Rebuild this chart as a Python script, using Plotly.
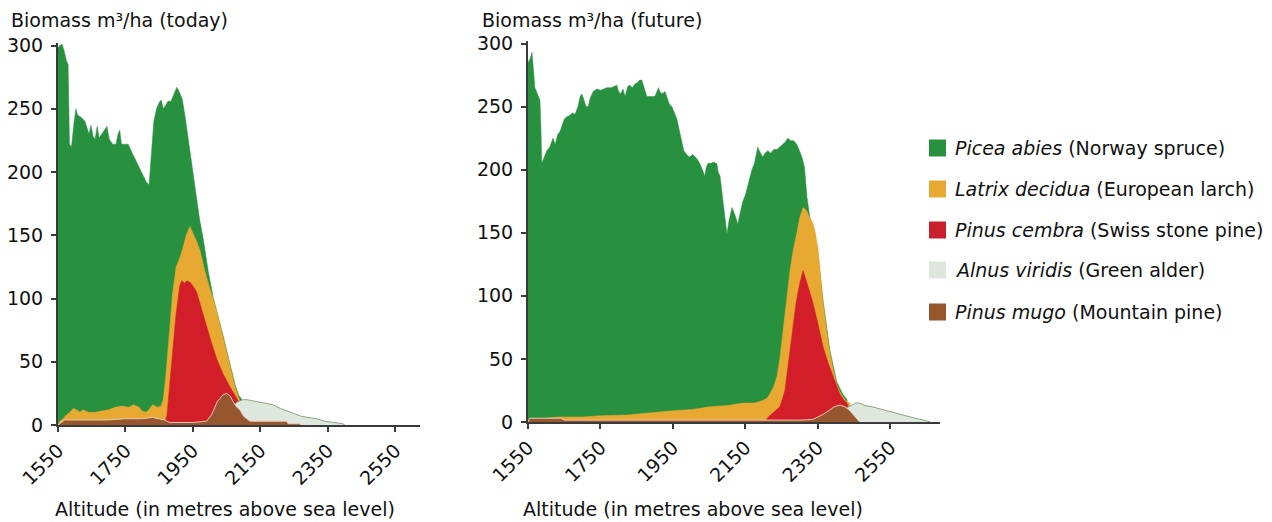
import plotly.graph_objects as go

# ---------------- DATA ----------------
# Today (left panel)
today_spruce_alt = [1550, 1555, 1562, 1568, 1575, 1580, 1584, 1590, 1597, 1603, 1608, 1620, 1630, 1636, 1642, 1648,
                    1654, 1660, 1666, 1672, 1680, 1688, 1695, 1702, 1712, 1722, 1728, 1733, 1738, 1750, 1758, 1770,
                    1785, 1800, 1812, 1820, 1826, 1834, 1842, 1850, 1856, 1862, 1870, 1876, 1885, 1893, 1902, 1910,
                    1918, 1926, 1935, 1941, 1950, 1961, 1970, 1980, 1995, 2010, 2025, 2040, 2060, 2075, 2085, 2095,
                    2105]
today_spruce_val = [298, 300, 301, 296, 288, 285, 222, 220, 238, 250, 245, 243, 240, 235, 230, 237,
                    228, 226, 236, 227, 230, 233, 236, 226, 222, 222, 230, 233, 222, 222, 222, 215,
                    207, 198, 192, 190, 215, 240, 250, 255, 257, 250, 253, 256, 256, 262, 267, 263,
                    258, 245, 228, 218, 200, 177, 162, 148, 122, 101, 86, 70, 48, 32, 24, 20,
                    0]

today_larch_alt = [1550, 1555, 1565, 1575, 1585, 1595, 1605, 1615, 1625, 1640, 1660, 1680, 1700, 1720, 1740, 1760,
                   1775, 1790, 1800, 1810, 1820, 1830, 1845, 1855, 1862, 1870, 1880, 1890, 1900, 1911, 1920, 1930,
                   1941, 1950, 1961, 1971, 1985, 2000, 2010, 2025, 2040, 2060, 2075, 2085, 2095, 2100]
today_larch_val = [0, 3, 5, 8, 10, 13, 12, 10, 12, 10, 10, 11, 12, 14, 15, 14,
                   16, 14, 11, 10, 12, 16, 14, 15, 20, 40, 75, 105, 125, 132, 140, 150,
                   157, 152, 145, 138, 122, 108, 100, 85, 68, 46, 30, 22, 15, 0]

today_cembra_alt = [1860, 1868, 1873, 1880, 1886, 1891, 1900, 1911, 1917, 1925, 1932, 1940, 1950, 1961, 1975, 1991,
                    2005, 2021, 2040, 2060, 2075, 2089, 2098, 2105]
today_cembra_val = [0, 3, 8, 30, 45, 60, 88, 110, 114, 112, 114, 113, 110, 105, 92, 78,
                    65, 52, 40, 30, 23, 17, 10, 0]

today_alder_alt = [2040, 2060, 2080, 2098, 2110, 2128, 2150, 2170, 2187, 2210, 2230, 2246, 2270, 2290, 2316, 2340,
                   2370, 2394, 2400]
today_alder_val = [0, 12, 18, 20, 20, 19, 18, 17, 16, 13, 11, 10, 7, 6, 5, 3,
                   2, 1, 0]

today_mugo_alt = [1550, 1560, 1570, 1600, 1650, 1700, 1750, 1800, 1830, 1850, 1865, 1880, 1950, 1990, 2005, 2015,
                  2021, 2030, 2040, 2050, 2060, 2070, 2080, 2089, 2100, 2119, 2150, 2200, 2228, 2232, 2267, 2270]
today_mugo_val = [0, 2, 4, 4, 4, 4, 5, 5, 6, 5, 4, 2, 2, 3, 8, 14,
                  18, 21, 24, 25, 23, 18, 14, 12, 7, 3, 3, 3, 3, 1, 1, 0]

# Future (right panel)
future_spruce_alt = [1550, 1556, 1561, 1565, 1569, 1576, 1583, 1586, 1588, 1595, 1602, 1610, 1619, 1625, 1632, 1638,
                     1645, 1650, 1657, 1665, 1672, 1680, 1688, 1694, 1699, 1705, 1710, 1716, 1722, 1730, 1740, 1750,
                     1760, 1768, 1780, 1790, 1795, 1800, 1806, 1812, 1818, 1825, 1831, 1838, 1845, 1852, 1858, 1864,
                     1870, 1878, 1890, 1900, 1906, 1910, 1914, 1920, 1928, 1934, 1940, 1947, 1955, 1961, 1970, 1980,
                     1988, 1995, 2005, 2015, 2024, 2030, 2038, 2042, 2047, 2055, 2063, 2068, 2071, 2075, 2080, 2084,
                     2088, 2094, 2099, 2105, 2113, 2120, 2125, 2129, 2135, 2143, 2150, 2154, 2160, 2168, 2175, 2180,
                     2184, 2190, 2198, 2204, 2212, 2220, 2228, 2237, 2245, 2253, 2260, 2267, 2275, 2283, 2292, 2299,
                     2306, 2313, 2320, 2328, 2340, 2350, 2364, 2383, 2402, 2419, 2430, 2440]
future_spruce_val = [285, 288, 293, 280, 265, 260, 255, 230, 205, 210, 215, 218, 225, 220, 228, 230,
                     237, 240, 242, 243, 245, 244, 250, 258, 260, 254, 250, 250, 257, 262, 264, 263,
                     264, 265, 265, 266, 267, 262, 260, 264, 258, 266, 267, 265, 268, 269, 271, 271,
                     265, 258, 258, 258, 262, 265, 262, 260, 262, 257, 252, 250, 245, 240, 228, 215,
                     212, 210, 212, 209, 205, 200, 195, 202, 205, 205, 206, 205, 205, 198, 195, 185,
                     175, 160, 149, 160, 170, 165, 160, 157, 165, 175, 180, 185, 192, 200, 205, 212,
                     218, 214, 210, 213, 215, 213, 216, 216, 218, 220, 222, 225, 223, 223, 220, 215,
                     210, 202, 178, 162, 145, 133, 97, 57, 32, 22, 18, 0]

future_larch_alt = [1550, 1560, 1600, 1638, 1700, 1750, 1823, 1870, 1900, 1950, 2005, 2050, 2100, 2143, 2175, 2198,
                    2210, 2217, 2228, 2237, 2245, 2253, 2263, 2273, 2283, 2292, 2300, 2309, 2318, 2327, 2336, 2343,
                    2350, 2357, 2364, 2373, 2383, 2392, 2402, 2411, 2419, 2430, 2438, 2445]
future_larch_val = [0, 2, 3, 4, 4, 5, 5.5, 7, 8, 9, 10, 12, 13, 15, 15, 17,
                    19, 22, 28, 36, 50, 68, 95, 120, 138, 150, 162, 170, 168, 162, 158, 150,
                    138, 118, 95, 75, 55, 42, 30, 24, 20, 16, 15, 0]

future_cembra_alt = [2205, 2210, 2217, 2230, 2245, 2252, 2259, 2270, 2281, 2290, 2300, 2309, 2318, 2327, 2336, 2350,
                     2364, 2378, 2392, 2402, 2411, 2420, 2430, 2438, 2445]
future_cembra_val = [0, 3, 5, 8, 12, 18, 25, 50, 75, 95, 110, 120, 112, 103, 95, 78,
                     60, 47, 36, 28, 22, 18, 15, 10, 0]

future_alder_alt = [2380, 2400, 2420, 2440, 2455, 2466, 2480, 2500, 2525, 2550, 2575, 2600, 2625, 2650, 2660]
future_alder_val = [0, 6, 10, 13, 15, 15, 13, 12, 10, 8, 6, 4, 2.5, 1, 0]

future_mugo_alt = [1550, 1555, 1640, 1650, 2300, 2336, 2350, 2364, 2380, 2395, 2411, 2425, 2438, 2450, 2460, 2465]
future_mugo_val = [0, 3, 3, 1.5, 1.5, 2, 4, 6, 9, 12, 13.5, 12, 9, 5, 2, 0]

species_latin = ["Picea abies", "Latrix decidua", "Pinus cembra", "Alnus viridis", "Pinus mugo"]
species_common = ["Norway spruce", "European larch", "Swiss stone pine", "Green alder", "Mountain pine"]
fill_colors = ["rgb(40,145,64)", "rgb(232,169,50)", "rgb(210,30,40)", "rgb(222,232,222)", "rgb(150,86,46)"]
line_colors = ["rgb(40,145,64)", "rgb(232,169,50)", "rgb(210,30,40)", "rgb(140,165,130)", "rgb(238,200,185)"]
legend_swatch = ["rgb(40,145,64)", "rgb(232,169,50)", "rgb(200,32,45)", "rgb(222,230,222)", "rgb(150,86,46)"]

x_ticks = [1550, 1750, 1950, 2150, 2350, 2550]
y_ticks = [0, 50, 100, 150, 200, 250, 300]

FONT = "DejaVu Sans"
FS = 19
OFF = 8                      # page body margin of the browser
W, H = 1272 - OFF, 522 - OFF

today = [(today_spruce_alt, today_spruce_val), (today_larch_alt, today_larch_val),
         (today_cembra_alt, today_cembra_val), (today_alder_alt, today_alder_val),
         (today_mugo_alt, today_mugo_val)]
future = [(future_spruce_alt, future_spruce_val), (future_larch_alt, future_larch_val),
          (future_cembra_alt, future_cembra_val), (future_alder_alt, future_alder_val),
          (future_mugo_alt, future_mugo_val)]

fig = go.Figure()
for panel, (xa, ya) in ((today, ("x", "y")), (future, ("x2", "y2"))):
    for i, (xs, ys) in enumerate(panel):
        fig.add_trace(go.Scatter(
            x=xs, y=ys, mode="lines", fill="tozeroy",
            fillcolor=fill_colors[i],
            line=dict(color=line_colors[i], width=1 if i >= 3 else 0.5, shape="linear"),
            xaxis=xa, yaxis=ya, showlegend=False, hoverinfo="skip"))


def px_x(p):
    return (p - OFF) / W


def px_y(p):
    return (H - (p - OFF)) / H


axis_common = dict(
    showgrid=False, zeroline=False, showline=True, linecolor="#3a3a3a", linewidth=2,
    ticks="outside", ticklen=5, tickwidth=1.5, tickcolor="#3a3a3a", automargin=False,
    tickfont=dict(family=FONT, size=FS, color="#111"),
)

txt = dict(family=FONT, size=FS, color="#111")
annotations = [
    dict(text="Biomass m³/ha (today)", x=px_x(9), y=px_y(20), xref="paper", yref="paper",
         xanchor="left", yanchor="middle", showarrow=False, font=txt),
    dict(text="Biomass m³/ha (future)", x=px_x(480), y=px_y(20), xref="paper", yref="paper",
         xanchor="left", yanchor="middle", showarrow=False, font=txt),
    dict(text="Altitude (in metres above sea level)", x=px_x(225), y=px_y(509), xref="paper", yref="paper",
         xanchor="center", yanchor="middle", showarrow=False, font=txt),
    dict(text="Altitude (in metres above sea level)", x=px_x(693), y=px_y(509), xref="paper", yref="paper",
         xanchor="center", yanchor="middle", showarrow=False, font=txt),
]
shapes = []
row_y = [148, 189, 230, 270, 312]
for i in range(5):
    cy = row_y[i]
    shapes.append(dict(type="rect", xref="paper", yref="paper",
                       x0=px_x(929), x1=px_x(946), y0=px_y(cy + 8.5), y1=px_y(cy - 8.5),
                       fillcolor=legend_swatch[i], line=dict(width=0)))
    annotations.append(dict(text=f"<i>{species_latin[i]}</i> ({species_common[i]})",
                            x=px_x(953), y=px_y(cy), xref="paper", yref="paper",
                            xanchor="left", yanchor="middle", showarrow=False, font=txt))

fig.update_layout(
    width=W, height=H,
    margin=dict(l=0, r=0, t=0, b=0, autoexpand=False),
    paper_bgcolor="white", plot_bgcolor="white",
    font=txt, showlegend=False,
    xaxis=dict(domain=[px_x(58), px_x(420)], range=[1550, 2623], tickvals=x_ticks,
               tickangle=-45, anchor="y", **axis_common),
    yaxis=dict(domain=[px_y(425), px_y(43)], range=[0, 302], tickvals=y_ticks,
               anchor="x", ticklabelstandoff=4, **axis_common),
    xaxis2=dict(domain=[px_x(528), px_x(940)], range=[1550, 2687], tickvals=x_ticks,
                tickangle=-45, anchor="y2", **axis_common),
    yaxis2=dict(domain=[px_y(422), px_y(41)], range=[0, 302], tickvals=y_ticks,
                anchor="x2", ticklabelstandoff=4, **axis_common),
    annotations=annotations,
    shapes=shapes,
)

fig.write_html("out.html")
